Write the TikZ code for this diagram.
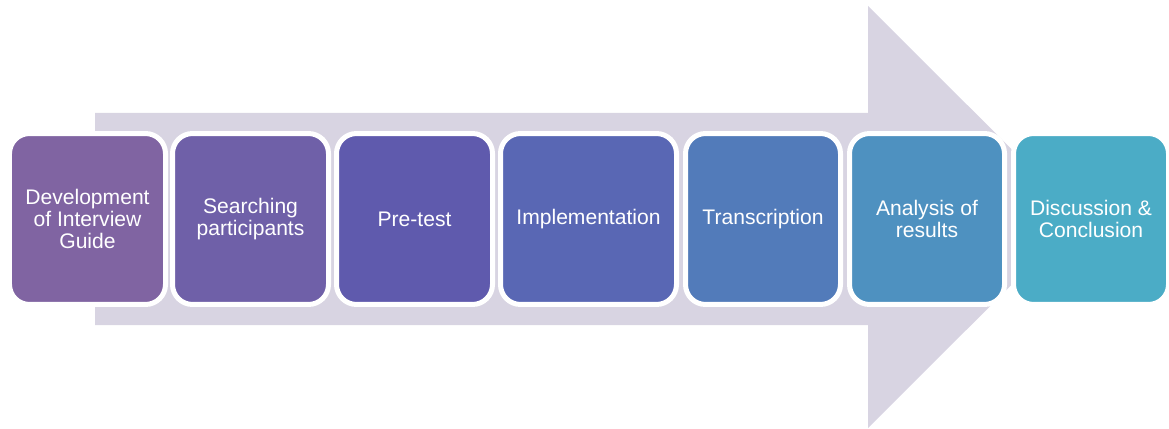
\documentclass[tikz,border=0pt]{standalone}
\usepackage{fontspec}
\setmainfont{Liberation Sans}
\definecolor{arrowgray}{HTML}{D8D4E2}
\definecolor{colA}{HTML}{8064A2}
\definecolor{colB}{HTML}{6F60A8}
\definecolor{colC}{HTML}{5F5AAD}
\definecolor{colD}{HTML}{5967B4}
\definecolor{colE}{HTML}{527BBA}
\definecolor{colF}{HTML}{4E91C0}
\definecolor{colG}{HTML}{4BACC6}
\tikzset{
  stagebox/.style={draw=white, line width=0.1cm, rounded corners=0.4cm,
    minimum height=3.42cm, text=white, align=center,
    font=\fontsize{12}{12.5}\selectfont}
}
\begin{document}
\begin{tikzpicture}[x=0.02cm, y=-0.02cm]
        \useasboundingbox (0,0) rectangle (1169,429);
        % big arrow behind the stages
        \fill[arrowgray] (95,113) -- (868,113) -- (868,6) -- (1079.5,217)
          -- (868,428) -- (868,325) -- (95,325) -- cycle;
        \foreach \n/\x/\w/\col/\txt in {
          1/87.5/156/colA/{Development\\of Interview\\Guide},
          2/250.5/156/colB/{Searching\\participants},
          3/414.5/156/colC/{Pre-test},
          4/588.5/176/colD/{Implementation},
          5/763/155/colE/{Transcription},
          6/927/155/colF/{Analysis of\\results},
          7/1091/155/colG/{Discussion \&\\Conclusion}}{
          \node[stagebox, fill=\col, minimum width=\w*0.02cm] (stage\n) at (\x,219) {\txt};
        }

      \end{tikzpicture}
\end{document}
